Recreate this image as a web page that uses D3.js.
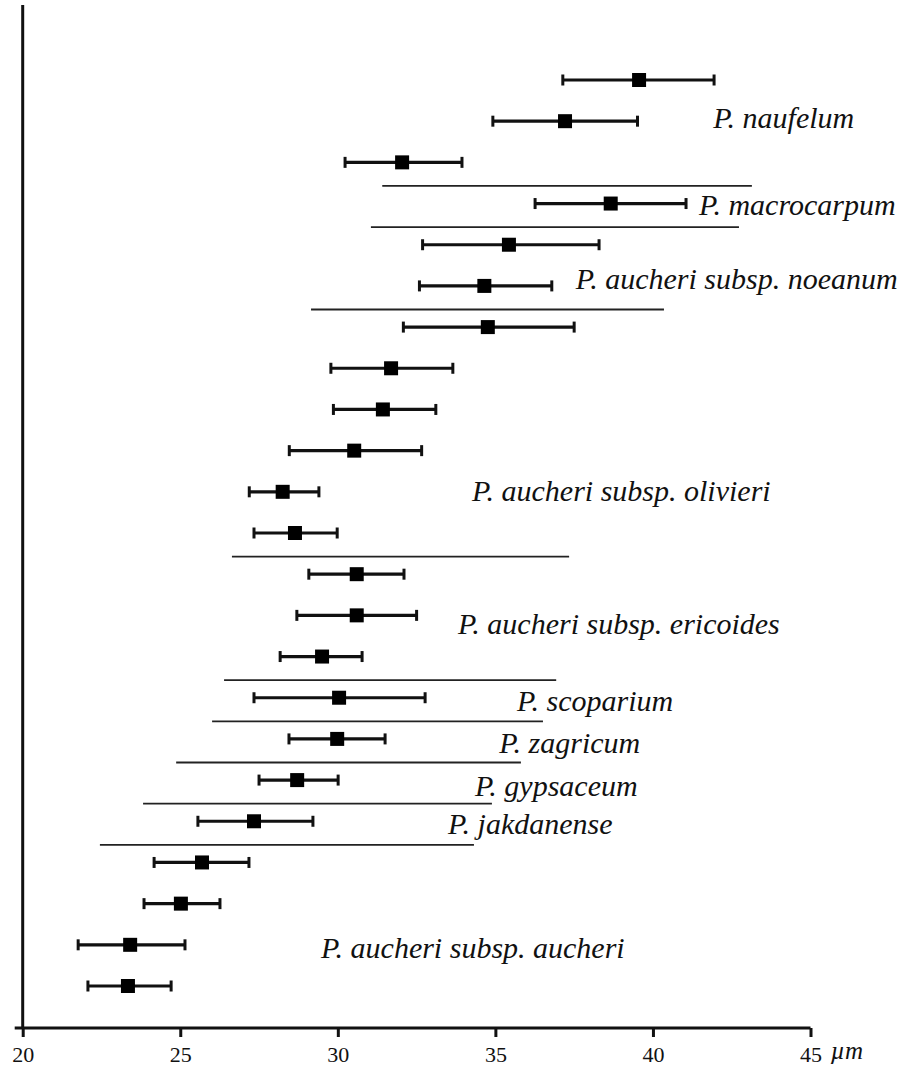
<!doctype html>
<html lang="en">
<head>
  <meta charset="utf-8" />
  <title>Pollen size by taxon</title>
  <script src="https://cdn.jsdelivr.net/npm/d3@7"></script>
  <style>
    body { margin: 0; background: #fff; }
    text { font-family: "Liberation Serif", "Times New Roman", serif; fill: #111; }
  </style>
</head>
<body>
  <div id="chart"></div>
  <script>
    // mean and range (low / high) per sample, top to bottom, in µm
    const means = [39.56, 37.21, 32.04, 38.66, 35.43, 34.65, 34.76, 31.69, 31.43, 30.52, 28.25, 28.64,
      30.6, 30.6, 29.5, 30.04, 29.98, 28.71, 27.34, 25.69, 25.02, 23.41, 23.34];
    const lows = [37.14, 34.92, 30.23, 36.26, 32.69, 32.59, 32.08, 29.78, 29.86, 28.46, 27.19, 27.34,
      29.08, 28.7, 28.17, 27.34, 28.45, 27.5, 25.56, 24.17, 23.85, 21.76, 22.07];
    const highs = [41.94, 39.51, 33.94, 41.05, 38.29, 36.79, 37.5, 33.65, 33.11, 32.66, 29.4, 29.98,
      32.1, 32.5, 30.77, 32.77, 31.5, 30.01, 29.21, 27.18, 26.26, 25.15, 24.71];

    // taxon names
    const taxa = ["P. naufelum", "P. macrocarpum", "P. aucheri subsp. noeanum", "P. aucheri subsp. olivieri",
      "P. aucheri subsp. ericoides", "P. scoparium", "P. zagricum", "P. gypsaceum", "P. jakdanense",
      "P. aucheri subsp. aucheri"];

    // dividing lines: drawn after sample index, spanning [from, to] µm
    const sepAfter = [2, 3, 5, 11, 14, 15, 16, 17, 18];
    const sepFrom = [31.41, 31.05, 29.15, 26.64, 26.39, 26.01, 24.87, 23.82, 22.45];
    const sepTo = [43.14, 42.73, 40.35, 37.34, 36.93, 36.51, 35.81, 34.89, 34.32];

    const xTicks = [20, 25, 30, 35, 40, 45];

    // where the taxon names sit (value units / row units)
    const labelX = [41.91, 41.46, 37.55, 34.26, 33.81, 35.69, 35.12, 34.35, 33.5, 29.47];
    const labelRow = [0.95, 3.05, 4.86, 10.0, 13.23, 15.1, 16.12, 17.17, 18.09, 21.1];

    const width = 901, height = 1072;

    const svg = d3.select("#chart")
      .append("svg")
      .attr("width", width)
      .attr("height", height);

    const x = d3.scaleLinear().domain([20, 45]).range([22.7, 810.5]);
    const y = d3.scaleLinear().domain([0, means.length - 1]).range([80, 986]);
    const axisY = 1028;

    // y axis (plain line)
    svg.append("line")
      .attr("x1", x(20)).attr("x2", x(20))
      .attr("y1", 5).attr("y2", axisY)
      .attr("stroke", "#111")
      .attr("stroke-width", 3);

    // x axis
    const xAxis = svg.append("g")
      .attr("transform", `translate(0, ${axisY})`)
      .call(d3.axisBottom(x).tickValues(xTicks).tickSize(9).tickSizeOuter(0).tickPadding(9))
      .attr("font-family", '"Liberation Serif", serif')
      .attr("font-size", 22);
    xAxis.select(".domain").attr("stroke", "#111").attr("stroke-width", 3)
      .attr("d", `M${x(20) - 8},0H${x(45)}`);
    xAxis.selectAll(".tick line").attr("stroke", "#111").attr("stroke-width", 3);
    xAxis.selectAll(".tick text").attr("fill", "#111");

    svg.append("text")
      .attr("x", x(45) + 20)
      .attr("y", axisY + 31)
      .style("font-size", "25px")
      .style("font-style", "italic")
      .text("µm");

    // dividing lines
    svg.selectAll(".sep")
      .data(sepAfter)
      .join("line")
      .attr("class", "sep")
      .attr("x1", (d, i) => x(sepFrom[i]))
      .attr("x2", (d, i) => x(sepTo[i]))
      .attr("y1", d => y(d + 0.5) + 3)
      .attr("y2", d => y(d + 0.5) + 3)
      .attr("stroke", "#222")
      .attr("stroke-width", 1.8);

    // error bars
    const rows = svg.selectAll(".row")
      .data(means)
      .join("g")
      .attr("class", "row")
      .attr("transform", (d, i) => `translate(0, ${y(i)})`);

    rows.append("line")
      .attr("x1", (d, i) => x(lows[i]))
      .attr("x2", (d, i) => x(highs[i]))
      .attr("stroke", "#111")
      .attr("stroke-width", 3.2);

    rows.append("line")
      .attr("x1", (d, i) => x(lows[i])).attr("x2", (d, i) => x(lows[i]))
      .attr("y1", -5.5).attr("y2", 5.5)
      .attr("stroke", "#111").attr("stroke-width", 3);

    rows.append("line")
      .attr("x1", (d, i) => x(highs[i])).attr("x2", (d, i) => x(highs[i]))
      .attr("y1", -5.5).attr("y2", 5.5)
      .attr("stroke", "#111").attr("stroke-width", 3);

    const sq = 14;
    rows.append("rect")
      .attr("x", d => x(d) - sq / 2)
      .attr("y", -sq / 2)
      .attr("width", sq)
      .attr("height", sq)
      .attr("fill", "#000");

    // taxon labels
    svg.selectAll(".taxon")
      .data(taxa)
      .join("text")
      .attr("class", "taxon")
      .attr("x", (d, i) => x(labelX[i]))
      .attr("y", (d, i) => y(labelRow[i]) + 9)
      .style("font-size", "30px")
      .style("font-style", "italic")
      .text(d => d);
  </script>
</body>
</html>
